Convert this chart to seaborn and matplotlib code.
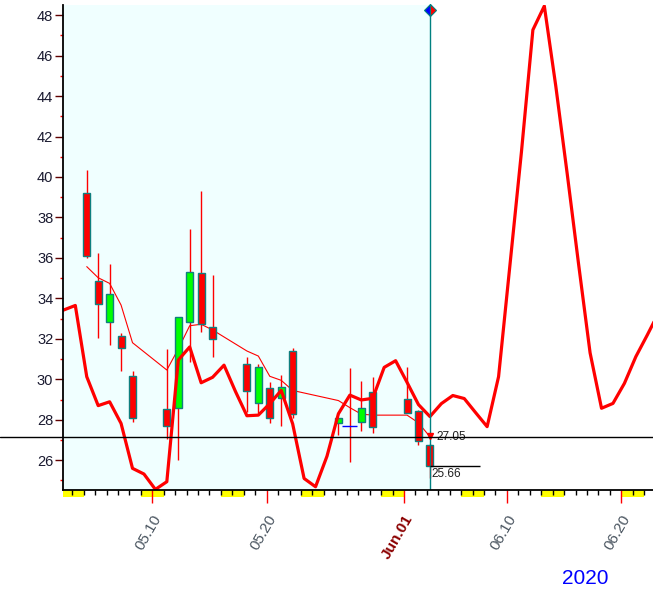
import numpy as np
import pandas as pd
import matplotlib
matplotlib.use("Agg")
import matplotlib.pyplot as plt
import matplotlib.transforms as mtransforms
from matplotlib.patches import Rectangle
from matplotlib.lines import Line2D
import seaborn as sns

# ---------------- data ----------------
candle_dates = ["2020-05-04", "2020-05-05", "2020-05-06", "2020-05-07", "2020-05-08",
                "2020-05-11", "2020-05-12", "2020-05-13", "2020-05-14", "2020-05-15",
                "2020-05-18", "2020-05-19", "2020-05-20", "2020-05-21", "2020-05-22",
                "2020-05-26", "2020-05-27", "2020-05-28", "2020-05-29",
                "2020-06-01", "2020-06-02", "2020-06-03"]
open_ = [39.19, 34.87, 32.82, 32.16, 30.18,
         28.52, 28.57, 32.85, 35.24, 32.57,
         30.74, 28.81, 29.55, 29.06, 31.41,
         27.82, 27.68, 27.90, 29.36,
         29.01, 28.45, 26.75]
high = [40.35, 36.23, 35.70, 32.30, 30.41,
        31.50, 33.10, 37.43, 39.31, 35.16,
        31.09, 30.76, 29.88, 30.21, 31.53,
        28.07, 30.54, 29.92, 30.13,
        30.59, 28.50, 26.80]
low = [36.00, 32.03, 31.70, 30.43, 27.90,
       27.04, 26.00, 30.84, 32.35, 31.09,
       28.40, 28.35, 27.85, 27.69, 28.07,
       27.23, 25.93, 27.46, 27.33,
       28.32, 26.75, 25.10]
close = [36.09, 33.72, 34.20, 31.53, 28.07,
         27.69, 33.09, 35.32, 32.72, 31.98,
         29.42, 30.59, 28.07, 29.60, 28.27,
         28.07, 27.68, 28.60, 27.63,
         28.32, 26.97, 25.70]
ma_values = [35.57, 35.02, 34.74, 33.67, 31.81,
             30.46, 31.50, 32.65, 32.72, 32.44,
             31.40, 31.15, 30.15, 29.95, 29.45,
             28.95, 28.60, 28.28, 28.23,
             28.23, 27.85, 27.16]

curve_start = "2020-05-01"
curve_values = [33.25, 33.43, 33.65, 30.13, 28.70, 28.89, 27.82, 25.60, 25.32, 24.56,
                24.94, 30.95, 31.60, 29.83, 30.10, 30.70, 29.40, 28.20, 28.23, 28.80,
                29.45, 27.80, 25.10, 24.69, 26.20, 28.30, 29.22, 28.98, 29.06, 30.59,
                30.92,
                29.85, 28.75, 28.16, 28.80, 29.20, 29.05, 28.35, 27.66, 30.13, 35.68,
                41.24, 47.27, 48.45, 44.50, 40.16, 35.67, 31.31, 28.57, 28.81, 29.80,
                31.12, 32.19, 33.30]

tick_dates = ["2020-05-10", "2020-05-20", "2020-06-01", "2020-06-10", "2020-06-20"]
tick_labels = ["05.10", "05.20", "Jun.01", "06.10", "06.20"]
weekend_starts = ["2020-05-02", "2020-05-09", "2020-05-16", "2020-05-23",
                  "2020-05-30", "2020-06-06", "2020-06-13", "2020-06-20"]
cross_value = 27.13
cross_label = "27.05"
last_label = "25.66"
marker_value = 48.25
year_label = "2020"

# ---------------- helpers ----------------
BASE = pd.Timestamp("2020-05-01")
SHIFT = 0.27  # bars drawn slightly right of the day tick


def dnum(d):
    return (pd.Timestamp(d) - BASE).days


cx = np.array([dnum(d) for d in candle_dates]) + SHIFT
curve_x = np.arange(len(curve_values)) + dnum(curve_start) + SHIFT

# ---------------- figure ----------------
sns.set_style("white")
plt.rcParams["font.family"] = ["Liberation Sans", "DejaVu Sans"]

W, H = 653, 591
fig = plt.figure(figsize=(W / 100, H / 100), dpi=100)
ax = fig.add_axes([63 / W, 101 / H, 590 / W, 485 / H])

xmin, xmax = 1.194, 52.77
ax.set_xlim(xmin, xmax)
ax.set_ylim(24.53, 48.50)

# background shade up to last candle
last_x = cx[-1]
ax.axvspan(xmin, last_x, color="#F0FFFF", zorder=0, lw=0)

# moving-average thin line
sns.lineplot(x=cx, y=ma_values, ax=ax, color="red", linewidth=0.8,
             sort=False, estimator=None, zorder=2)

# candles
for x, o, h, l, c in zip(cx, open_, high, low, close):
    ax.vlines(x, l, h, color="red", linewidth=1.0, zorder=3)
    if abs(o - c) < 0.02:
        ax.hlines(o, x - 0.65, x + 0.65, color="blue", linewidth=1.0, zorder=4)
    else:
        col = "#00FF00" if c > o else "#FF0000"
        ax.bar(x, abs(c - o), bottom=min(o, c), width=0.62, color=col,
               edgecolor="#0F7F7F", linewidth=1.0, zorder=4)

# thick curve
sns.lineplot(x=curve_x, y=curve_values, ax=ax, color="red", linewidth=2.3,
             sort=False, estimator=None, zorder=5)

# vertical line + diamond marker
ax.vlines(last_x, 24.53, marker_value, color="#008080", linewidth=1.0, zorder=6)
ax.plot([last_x], [marker_value], marker="D", ms=6, fillstyle="left",
        markerfacecolor="blue", markerfacecoloralt="red",
        markeredgecolor="#008080", markeredgewidth=0.8, clip_on=False, zorder=7)

# crosshair spanning the full figure width
bt = mtransforms.blended_transform_factory(fig.transFigure, ax.transData)
fig.add_artist(Line2D([0, 1], [cross_value, cross_value], transform=bt,
                      color="black", linewidth=1.0, zorder=8))
ax.plot([last_x], [cross_value + 0.05], marker="v", ms=4, color="red",
        zorder=9, clip_on=False)
ax.text(last_x + 0.6, cross_value, cross_label, fontsize=8.5, color="#202020",
        ha="left", va="center", zorder=9)

# last close label
ax.hlines(close[-1], last_x, last_x + 4.37, color="black", linewidth=1.0, zorder=8)
ax.text(last_x + 0.1, close[-1] - 0.08, last_label, fontsize=8.5, color="#202020",
        ha="left", va="top", zorder=9)

# spines
for s in ["top", "right"]:
    ax.spines[s].set_visible(False)
for s in ["left", "bottom"]:
    ax.spines[s].set_color("black")
    ax.spines[s].set_linewidth(1.3)
    ax.spines[s].set_zorder(10)

# y ticks
ax.set_yticks(np.arange(26, 49, 2))
ax.set_yticks(np.arange(25, 49, 2), minor=True)
ax.tick_params(axis="y", which="both", left=True, right=False)
ax.tick_params(axis="y", which="major", direction="out", length=5.5, width=1,
               color="#600000", pad=1.5, labelsize=10.5, labelcolor="#1a1a30")
ax.tick_params(axis="y", which="minor", direction="out", length=2.5, width=1,
               color="red")

# x axis: ticks drawn manually below the axis line
tick_x = [dnum(d) for d in tick_dates]
ax.set_xticks([])
tb = mtransforms.blended_transform_factory(ax.transData, ax.transAxes)

for d in weekend_starts:
    x0 = max(dnum(d), xmin)
    x1 = min(dnum(d) + 2, xmax)
    ax.add_patch(Rectangle((x0, -7 / 485), x1 - x0, 7 / 485, transform=tb,
                           facecolor="#FFFF00", edgecolor="none",
                           clip_on=False, zorder=1))

day_ticks = [d for d in range(2, 53) if d not in tick_x]
ax.vlines(day_ticks, -4.5 / 485, 0, transform=tb, color="black", linewidth=1.0,
          clip_on=False, zorder=2)
ax.vlines(tick_x, -12.5 / 485, 0, transform=tb, color="red", linewidth=1.0,
          clip_on=False, zorder=2)

# rotated date labels
off = mtransforms.ScaledTranslation(6 / 100, -26 / 100, fig.dpi_scale_trans)
for x, lab in zip(tick_x, tick_labels):
    special = lab.startswith("Jun")
    ax.text(x, 0, lab, transform=tb + off, rotation=60, ha="right", va="center",
            rotation_mode="anchor", fontsize=11,
            color="#8B0000" if special else "#4a5560",
            fontweight="bold" if special else "normal", clip_on=False)

fig.text(585 / W, 1 - 578 / H, year_label, color="blue", fontsize=15,
         ha="center", va="center")

fig.savefig("out.png", dpi=100)
